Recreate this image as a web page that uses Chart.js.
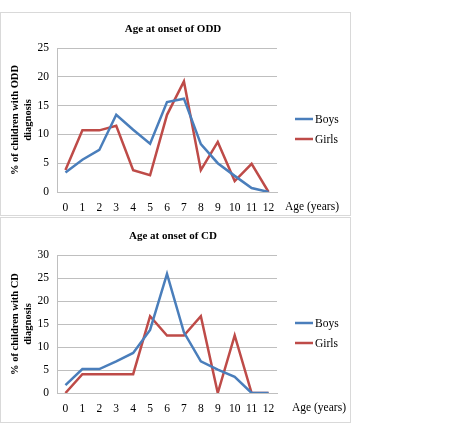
<!DOCTYPE html>
<html>
<head>
<meta charset="utf-8">
<script src="https://cdn.jsdelivr.net/npm/chart.js@4.4.1/dist/chart.umd.min.js"></script>
<style>
    body { margin: 0; background: #fff; }
    .box { position: absolute; left: 0; width: 349px; border: 1px solid #d9d9d9; background: #fff; }
    canvas { display: block; }
</style>
</head>
<body>
<div class="box" style="top:12px;height:202px"><canvas id="oddChart" width="349" height="202"></canvas></div>
<div class="box" style="top:217px;height:204px"><canvas id="cdChart" width="349" height="204"></canvas></div>
<script>
    // Data
    const ages = ['0', '1', '2', '3', '4', '5', '6', '7', '8', '9', '10', '11', '12'];
    const oddBoys = [3.4, 5.6, 7.3, 13.4, 10.8, 8.4, 15.6, 16.2, 8.3, 5.0, 2.8, 0.7, 0];
    const oddGirls = [3.8, 10.7, 10.7, 11.5, 3.8, 2.9, 13.4, 19.2, 3.8, 8.7, 1.9, 4.9, 0];
    const cdBoys = [1.7, 5.2, 5.2, 6.9, 8.7, 13.7, 25.9, 13.2, 6.9, 5.1, 3.5, 0, 0];
    const cdGirls = [0, 4.1, 4.1, 4.1, 4.1, 16.7, 12.5, 12.5, 16.7, 0, 12.5, 0, 0];
    const oddTicks = [0, 5, 10, 15, 20, 25];
    const cdTicks = [0, 5, 10, 15, 20, 25, 30];

    const serif = '"Liberation Serif", "Times New Roman", serif';
    const blue = '#4a7ebb';
    const red = '#be4b48';

    // Titel, legenda dan label sumbu x digambar sendiri
    const extras = {
        id: 'extras',
        afterDraw(chart, args, opts) {
            const ctx = chart.ctx;
            const area = chart.chartArea;
            const mid = (area.top + area.bottom) / 2;
            ctx.save();
            ctx.fillStyle = '#000';
            ctx.textBaseline = 'middle';
            ctx.font = 'bold 11px ' + serif;
            ctx.textAlign = 'center';
            ctx.fillText(opts.title, 172, opts.titleY);
            ctx.font = '11.5px ' + serif;
            ctx.textAlign = 'left';
            ctx.fillText('Age (years)', area.right + opts.unitX, area.bottom + 15);
            chart.data.datasets.forEach(function(ds, i) {
                const y = mid - 1 + i * 20;
                ctx.strokeStyle = ds.borderColor;
                ctx.lineWidth = 2.5;
                ctx.beginPath();
                ctx.moveTo(area.right + 18, y);
                ctx.lineTo(area.right + 36, y);
                ctx.stroke();
                ctx.fillText(ds.label, area.right + 38, y + 1);
            });
            ctx.restore();
        }
    };

    function makeChart(id, boys, girls, ticks, yTitle, title, top, height, titleY, unitX) {
        const plotBottom = top + 144 - (id === 'cdChart' ? 6 : 0);
        return new Chart(document.getElementById(id), {
            type: 'line',
            data: {
                labels: ages,
                datasets: [
                    { label: 'Boys', data: boys, borderColor: blue, borderWidth: 2.5, pointRadius: 0, tension: 0, fill: false },
                    { label: 'Girls', data: girls, borderColor: red, borderWidth: 2.5, pointRadius: 0, tension: 0, fill: false }
                ]
            },
            options: {
                responsive: false,
                animation: false,
                layout: { padding: { left: 0, top: top, right: 73, bottom: height - plotBottom - 24 } },
                plugins: {
                    legend: { display: false },
                    tooltip: { enabled: false },
                    extras: { title: title, titleY: titleY, unitX: unitX }
                },
                scales: {
                    x: {
                        offset: true,
                        grid: { display: false, drawTicks: false },
                        border: { display: true, color: '#bfbfbf', width: 1 },
                        ticks: { color: '#000', font: { family: serif, size: 11.5 }, padding: 9, maxRotation: 0, autoSkip: false },
                        afterFit: function(axis) { axis.height = 24; }
                    },
                    y: {
                        min: ticks[0],
                        max: ticks[ticks.length - 1],
                        ticks: { stepSize: ticks[1] - ticks[0], color: '#000', font: { family: serif, size: 11.5 }, padding: 8 },
                        grid: { color: '#bfbfbf', drawTicks: false },
                        border: { display: true, color: '#bfbfbf' },
                        title: {
                            display: true,
                            text: yTitle,
                            color: '#000',
                            font: { family: serif, size: 10.5, weight: 'bold', lineHeight: 1.24 },
                            padding: { top: 7.5, bottom: 0 }
                        },
                        afterFit: function(axis) { axis.width = 56; }
                    }
                }
            },
            plugins: [extras]
        });
    }

    makeChart('oddChart', oddBoys, oddGirls, oddTicks, ['% of children with ODD', 'diagnosis'], 'Age at onset of ODD', 35, 202, 16, 8);
    makeChart('cdChart', cdBoys, cdGirls, cdTicks, ['% of children with CD', 'diagnosis'], 'Age at onset of CD', 37, 204, 18, 15);
</script>
</body>
</html>
